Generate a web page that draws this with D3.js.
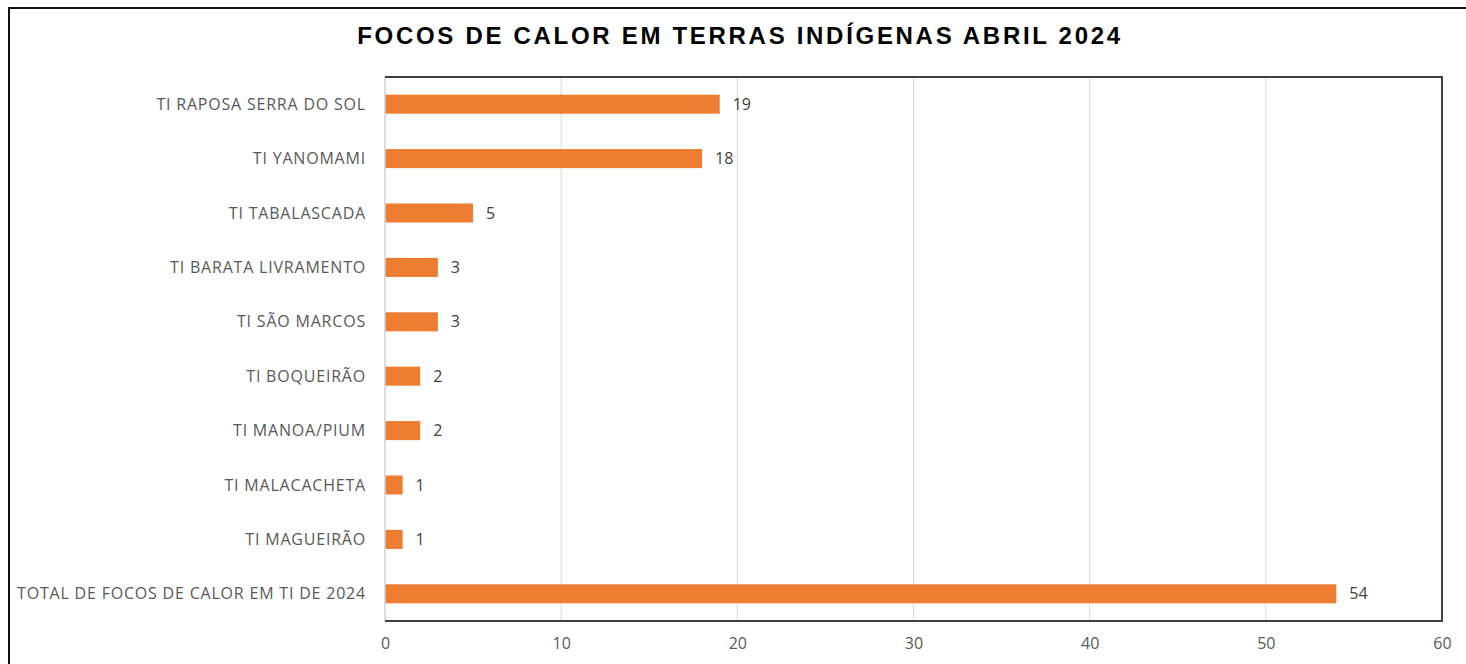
<!DOCTYPE html>
<html><head><meta charset="utf-8">
<script src="https://cdn.jsdelivr.net/npm/d3@7"></script>
<style>body{margin:0;background:#fff;overflow:hidden}</style>
</head><body>
<script>
const categories = ["TI RAPOSA SERRA DO SOL","TI YANOMAMI","TI TABALASCADA","TI BARATA LIVRAMENTO","TI SÃO MARCOS","TI BOQUEIRÃO","TI MANOA/PIUM","TI MALACACHETA","TI MAGUEIRÃO","TOTAL DE FOCOS DE CALOR EM TI DE 2024"];
const values = [19,18,5,3,3,2,2,1,1,54];
const xTicks = [0,10,20,30,40,50,60];
const title = "FOCOS DE CALOR EM TERRAS INDÍGENAS ABRIL 2024";

const W = 1466, H = 664;
const svg = d3.select("body").append("svg").attr("width", W).attr("height", H);
svg.append("rect").attr("width", W).attr("height", H).attr("fill", "#fff");
svg.append("rect").attr("x", 9).attr("y", 8).attr("width", 1500).attr("height", 700)
  .attr("fill", "none").attr("stroke", "#111").attr("stroke-width", 2);

const L = 385, R = 1442, T = 77, B = 621;
const x = d3.scaleLinear().domain([0, 60]).range([L, R]);
const y = d3.scaleBand().domain(categories).range([T, B]).paddingInner(0.65).paddingOuter(0.325);

svg.append("text").attr("x", 740).attr("y", 44).attr("text-anchor", "middle")
  .attr("font-family", "Liberation Sans, Arial, sans-serif").attr("font-weight", "bold")
  .attr("font-size", 24).attr("letter-spacing", 2.7).attr("fill", "#000").text(title);

// gridlines
svg.append("g").selectAll("line").data(xTicks.filter(d => d > 0 && d < 60)).join("line")
  .attr("x1", d => x(d)).attr("x2", d => x(d)).attr("y1", T).attr("y2", B)
  .attr("stroke", "#d9d9d9").attr("stroke-width", 1);

// bars
svg.append("g").selectAll("rect").data(values).join("rect")
  .attr("x", x(0)).attr("y", (d, i) => y(categories[i]))
  .attr("width", d => x(d) - x(0)).attr("height", y.bandwidth())
  .attr("fill", "#ed7d31");

// left axis line (light)
svg.append("line").attr("x1", L).attr("x2", L).attr("y1", T).attr("y2", B)
  .attr("stroke", "#d0d0d0").attr("stroke-width", 1.5);
// frame top/right/bottom dark
svg.append("path").attr("d", `M${L},${T}H${R}V${B}H${L}`)
  .attr("fill", "none").attr("stroke", "#404040").attr("stroke-width", 2);

const fontF = "'Open Sans', Lato, sans-serif";
// category labels
svg.append("g").selectAll("text").data(categories).join("text")
  .attr("x", 366).attr("y", d => y(d) + y.bandwidth() / 2).attr("dy", "0.35em")
  .attr("text-anchor", "end").attr("font-family", fontF).attr("font-size", 16)
  .attr("letter-spacing", 0.8).attr("fill", "#595959").text(d => d);

// value labels
svg.append("g").selectAll("text").data(values).join("text")
  .attr("x", d => x(d) + 13).attr("y", (d, i) => y(categories[i]) + y.bandwidth() / 2).attr("dy", "0.35em")
  .attr("font-family", fontF).attr("font-size", 16).attr("fill", "#404040").text(d => d);

// x axis tick labels
const xAxis = d3.axisBottom(x).tickValues(xTicks).tickSize(0).tickPadding(17);
const gx = svg.append("g").attr("transform", `translate(0,${B})`).call(xAxis);
gx.select(".domain").remove();
gx.selectAll("text").attr("font-family", fontF).attr("font-size", 16).attr("fill", "#595959");
</script>
</body></html>
